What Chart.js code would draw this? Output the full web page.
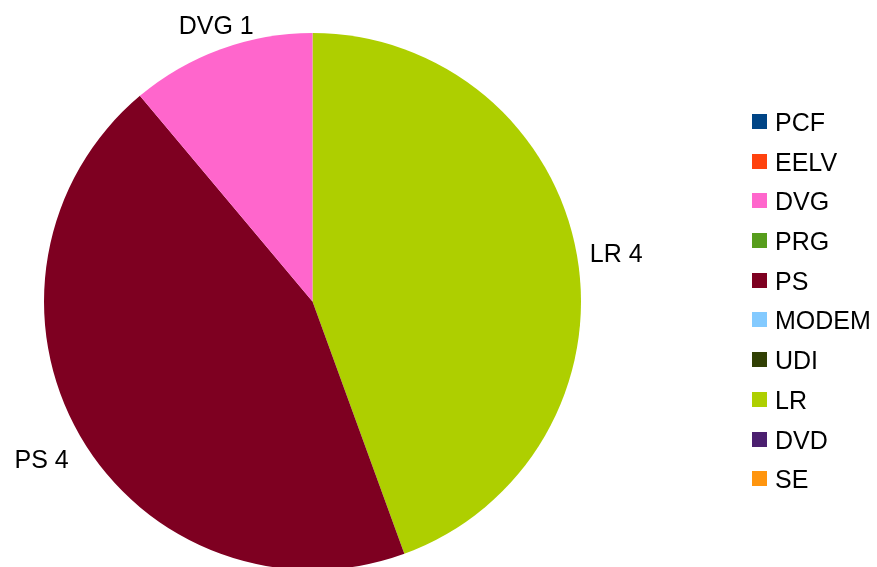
<!DOCTYPE html>
<html>
<head>
<meta charset="utf-8">
<script src="https://cdn.jsdelivr.net/npm/chart.js@4/dist/chart.umd.min.js"></script>
<style>
    html, body { margin: 0; padding: 0; background: #ffffff; overflow: hidden; }
    .wrap { position: relative; width: 877px; height: 571px; }
    .legend { position: absolute; left: 752px; top: 114px; font-family: "Liberation Sans", Arial, sans-serif; font-size: 25px; color: #000; }
    .legend .item { position: relative; height: 39.7px; }
    .legend .box { position: absolute; left: 0; top: 0; width: 15px; height: 15px; }
    .legend .txt { position: absolute; left: 23px; top: -6px; line-height: 28px; white-space: nowrap; }
</style>
</head>
<body>
<div class="wrap">
    <canvas id="pieChart"></canvas>
    <div class="legend" id="legend"></div>
</div>
<script>
// Parties, in legend order
const parties = ['PCF', 'EELV', 'DVG', 'PRG', 'PS', 'MODEM', 'UDI', 'LR', 'DVD', 'SE'];
const seats = [0, 0, 1, 0, 4, 0, 0, 4, 0, 0];
const colors = ['#004586', '#ff420e', '#ff66cc', '#579d1c', '#7e0021', '#83caff', '#314004', '#aecf00', '#4b1f6f', '#ff950e'];

// the original goes counter-clockwise, Chart.js goes clockwise -> reverse
const pieLabels = parties.slice().reverse();
const pieValues = seats.slice().reverse();
const pieColors = colors.slice().reverse();

// Outside labels "NAME value"
const outsideLabels = {
    id: 'outsideLabels',
    afterDatasetsDraw(chart) {
        const ctx = chart.ctx;
        const meta = chart.getDatasetMeta(0);
        const data = chart.data.datasets[0].data;
        ctx.save();
        ctx.font = '25px "Liberation Sans", Arial, sans-serif';
        ctx.fillStyle = '#000000';
        meta.data.forEach((arc, i) => {
            if (!data[i]) return;
            const p = arc.getProps(['x', 'y', 'startAngle', 'endAngle', 'outerRadius'], true);
            const mid = (p.startAngle + p.endAngle) / 2;
            const dx = Math.cos(mid);
            const dy = Math.sin(mid);
            const r = p.outerRadius + 13;
            let px = p.x + dx * r;
            let py = p.y + dy * r;
            ctx.textAlign = dx > 0.5 ? 'left' : (dx < -0.5 ? 'right' : 'center');
            if (dy < -0.5) {
                ctx.textBaseline = 'alphabetic';
                py -= 3;
            } else if (dy > 0.3) {
                ctx.textBaseline = 'top';
                py += 6;
            } else {
                ctx.textBaseline = 'middle';
                py += 2;
            }
            ctx.fillText(chart.data.labels[i] + ' ' + data[i], px, py);
        });
        ctx.restore();
    }
};

const ctx = document.getElementById('pieChart').getContext('2d');
const pieChart = new Chart(ctx, {
    type: 'pie',
    data: {
        labels: pieLabels,
        datasets: [{
            data: pieValues,
            backgroundColor: pieColors,
            borderWidth: 0,
            hoverOffset: 0,
            offset: 0
        }]
    },
    options: {
        responsive: true,
        maintainAspectRatio: false,
        animation: false,
        events: [],
        layout: {
            padding: { left: 44, top: 33, right: 296, bottom: 1 }
        },
        plugins: {
            legend: { display: false },
            tooltip: { enabled: false }
        }
    },
    plugins: [outsideLabels]
});

// Legend
const legend = document.getElementById('legend');
parties.forEach((name, i) => {
    const item = document.createElement('div');
    item.className = 'item';
    item.innerHTML = '<span class="box" style="background:' + colors[i] + '"></span><span class="txt">' + name + '</span>';
    legend.appendChild(item);
});
</script>
</body>
</html>
